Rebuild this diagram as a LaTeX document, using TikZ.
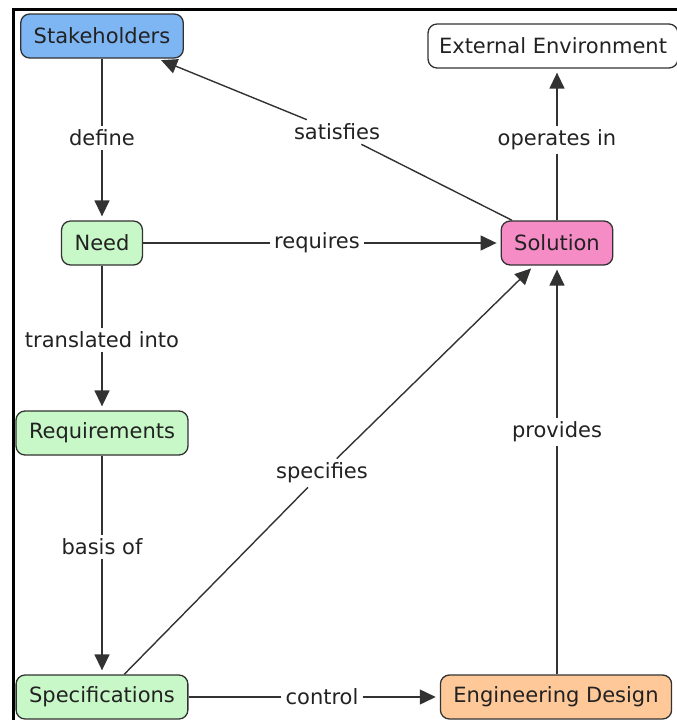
\documentclass[tikz,border=0pt]{standalone}
\usepackage{fontspec}
\setmainfont{DejaVu Sans}
\usetikzlibrary{arrows.meta}

\definecolor{stakeblue}{RGB}{126,182,244}
\definecolor{needgreen}{RGB}{200,248,200}
\definecolor{solpink}{RGB}{246,140,198}
\definecolor{engorange}{RGB}{255,200,152}
\definecolor{boxline}{RGB}{50,50,50}
\definecolor{labeltext}{RGB}{34,34,34}

\tikzset{
  concept/.style={draw=boxline, line width=1.3pt, rounded corners=9pt,
    inner xsep=13pt, minimum height=44pt, text=labeltext,
    font=\fontsize{21}{25}\selectfont},
  link/.style={fill=white, inner sep=4pt, text=labeltext,
    font=\fontsize{21}{25}\selectfont},
  conn/.style={line width=1.4pt, draw=boxline},
  arr/.style={conn, -{Triangle[length=16pt,width=15pt]}, shorten >=4pt}
}

\begin{document}
\begin{tikzpicture}[x=1pt, y=-1pt]
        \useasboundingbox (0,0) rectangle (677,720);
        % 外框
        \draw[line width=3pt] (13,720) -- (13,9) -- (677,9);

        % 概念节点
        \node[concept, fill=stakeblue] (stake) at (102,36) {Stakeholders};
        \node[concept, inner xsep=11pt] (env) at (553,46) {External Environment};
        \node[concept, fill=needgreen] (need) at (102,243) {Need};
        \node[concept, fill=solpink] (sol) at (557,243) {Solution};
        \node[concept, fill=needgreen] (req) at (102,433) {Requirements};
        \node[concept, fill=needgreen] (spec) at (102,697) {Specifications};
        \node[concept, fill=engorange] (eng) at (556,697) {Engineering Design};

        % 连接词
        \node[link] (define) at (102,138) {define};
        \node[link] (satisfies) at (337,132) {satisfies};
        \node[link] (operates) at (557,140) {operates in};
        \node[link] (requires) at (317,243) {requires};
        \node[link] (translated) at (102,340) {translated into};
        \node[link] (provides) at (557,432) {provides};
        \node[link] (specifies) at (322,473) {specifies};
        \node[link] (basis) at (102,547) {basis of};
        \node[link] (control) at (322,697) {control};

        % 连线
        \draw[conn] (stake) -- (define);
        \draw[arr] (define) -- (need);
        \draw[conn] (sol) -- (satisfies);
        \draw[arr] (satisfies) -- (stake);
        \draw[conn] (sol) -- (operates);
        \draw[arr] (operates) -- (env.south -| operates);
        \draw[conn] (need) -- (requires);
        \draw[arr] (requires) -- (sol);
        \draw[conn] (need) -- (translated);
        \draw[arr] (translated) -- (req);
        \draw[conn] (req) -- (basis);
        \draw[arr] (basis) -- (spec);
        \draw[conn] (spec) -- (specifies);
        \draw[arr] (specifies) -- (sol);
        \draw[conn] (spec) -- (control);
        \draw[arr] (control) -- (eng);
        \draw[conn] (eng.north -| provides) -- (provides);
        \draw[arr] (provides) -- (sol);
\end{tikzpicture}
\end{document}
